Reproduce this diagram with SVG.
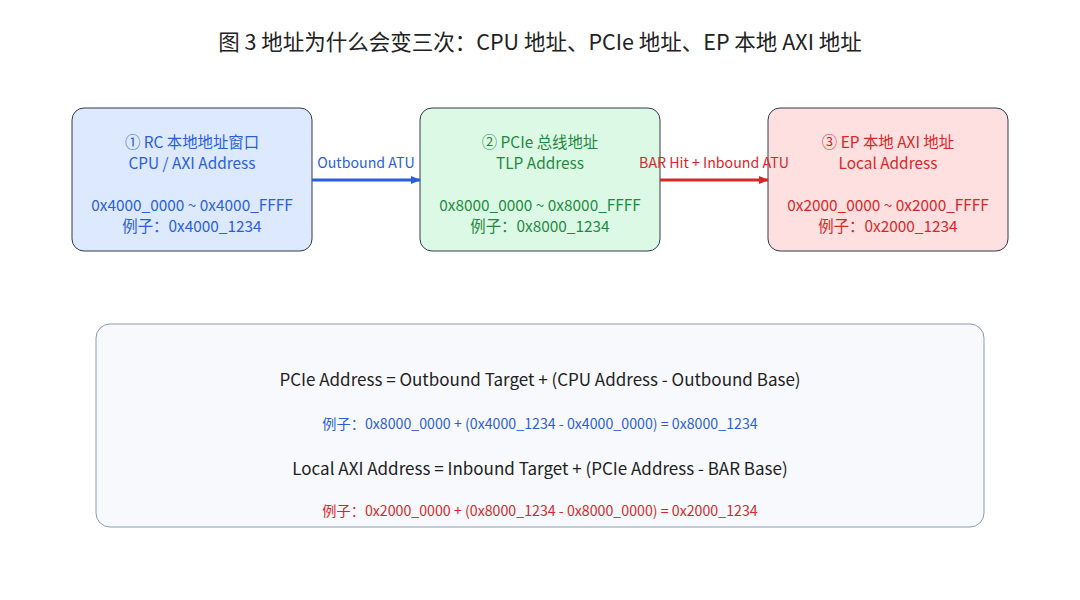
<svg xmlns="http://www.w3.org/2000/svg" width="1080" height="600" viewBox="0 0 1080 600">
<style>
text{font-family:"Noto Sans CJK SC","Noto Sans",sans-serif;text-anchor:middle}
.n{stroke:#2f3b4c;stroke-width:1}
.t{font-size:15.4px}
.f{font-size:17px;fill:#222}
.e{font-size:14.2px}
</style>
<defs>
<marker id="ab" markerWidth="10" markerHeight="8" refX="9" refY="4" orient="auto" markerUnits="userSpaceOnUse"><path d="M0,0L10,4L0,8z" fill="#2b5fd9"/></marker>
<marker id="ar" markerWidth="10" markerHeight="8" refX="9" refY="4" orient="auto" markerUnits="userSpaceOnUse"><path d="M0,0L10,4L0,8z" fill="#d62828"/></marker>
</defs>
<rect width="1080" height="600" fill="#fff"/>
<text x="540" y="50" font-size="21.5" fill="#222">图 3  地址为什么会变三次：CPU 地址、PCIe 地址、EP 本地 AXI 地址</text>
<g id="rc">
<rect x="72" y="108" width="240" height="143" rx="12" fill="#dce9ff" class="n"/>
<g fill="#2b5fd9" class="t"><text x="192" y="148">① RC 本地地址窗口</text><text x="192" y="169">CPU / AXI Address</text><text x="192" y="211">0x4000_0000 ~ 0x4000_FFFF</text><text x="192" y="232">例子：0x4000_1234</text></g>
</g>
<g id="pcie">
<rect x="420" y="108" width="240" height="143" rx="12" fill="#dcf9e6" class="n"/>
<g fill="#1f8a3e" class="t"><text x="540" y="148">② PCIe 总线地址</text><text x="540" y="169">TLP Address</text><text x="540" y="211">0x8000_0000 ~ 0x8000_FFFF</text><text x="540" y="232">例子：0x8000_1234</text></g>
</g>
<g id="ep">
<rect x="768" y="108" width="240" height="143" rx="12" fill="#ffe0e0" class="n"/>
<g fill="#d62828" class="t"><text x="888" y="148">③ EP 本地 AXI 地址</text><text x="888" y="169">Local Address</text><text x="888" y="211">0x2000_0000 ~ 0x2000_FFFF</text><text x="888" y="232">例子：0x2000_1234</text></g>
</g>
<g id="connectors">
<line x1="312" y1="180" x2="420" y2="180" stroke="#2b5fd9" stroke-width="3" marker-end="url(#ab)"/>
<text x="366" y="168" class="e" fill="#2b5fd9">Outbound ATU</text>
<line x1="660" y1="180" x2="768" y2="180" stroke="#d62828" stroke-width="3" marker-end="url(#ar)"/>
<text x="714" y="168" class="e" fill="#d62828">BAR Hit + Inbound ATU</text>
</g>
<g id="formula">
<rect x="96" y="324" width="888" height="203" rx="14" fill="#f7f9fc" stroke="#8a9ab5" stroke-width="1"/>
<text x="540" y="386" class="f">PCIe Address = Outbound Target + (CPU Address - Outbound Base)</text>
<text x="540" y="429" class="e" fill="#2b5fd9">例子：0x8000_0000 + (0x4000_1234 - 0x4000_0000) = 0x8000_1234</text>
<text x="540" y="475" class="f">Local AXI Address = Inbound Target + (PCIe Address - BAR Base)</text>
<text x="540" y="516" class="e" fill="#d62828">例子：0x2000_0000 + (0x8000_1234 - 0x8000_0000) = 0x2000_1234</text>
</g>
</svg>
